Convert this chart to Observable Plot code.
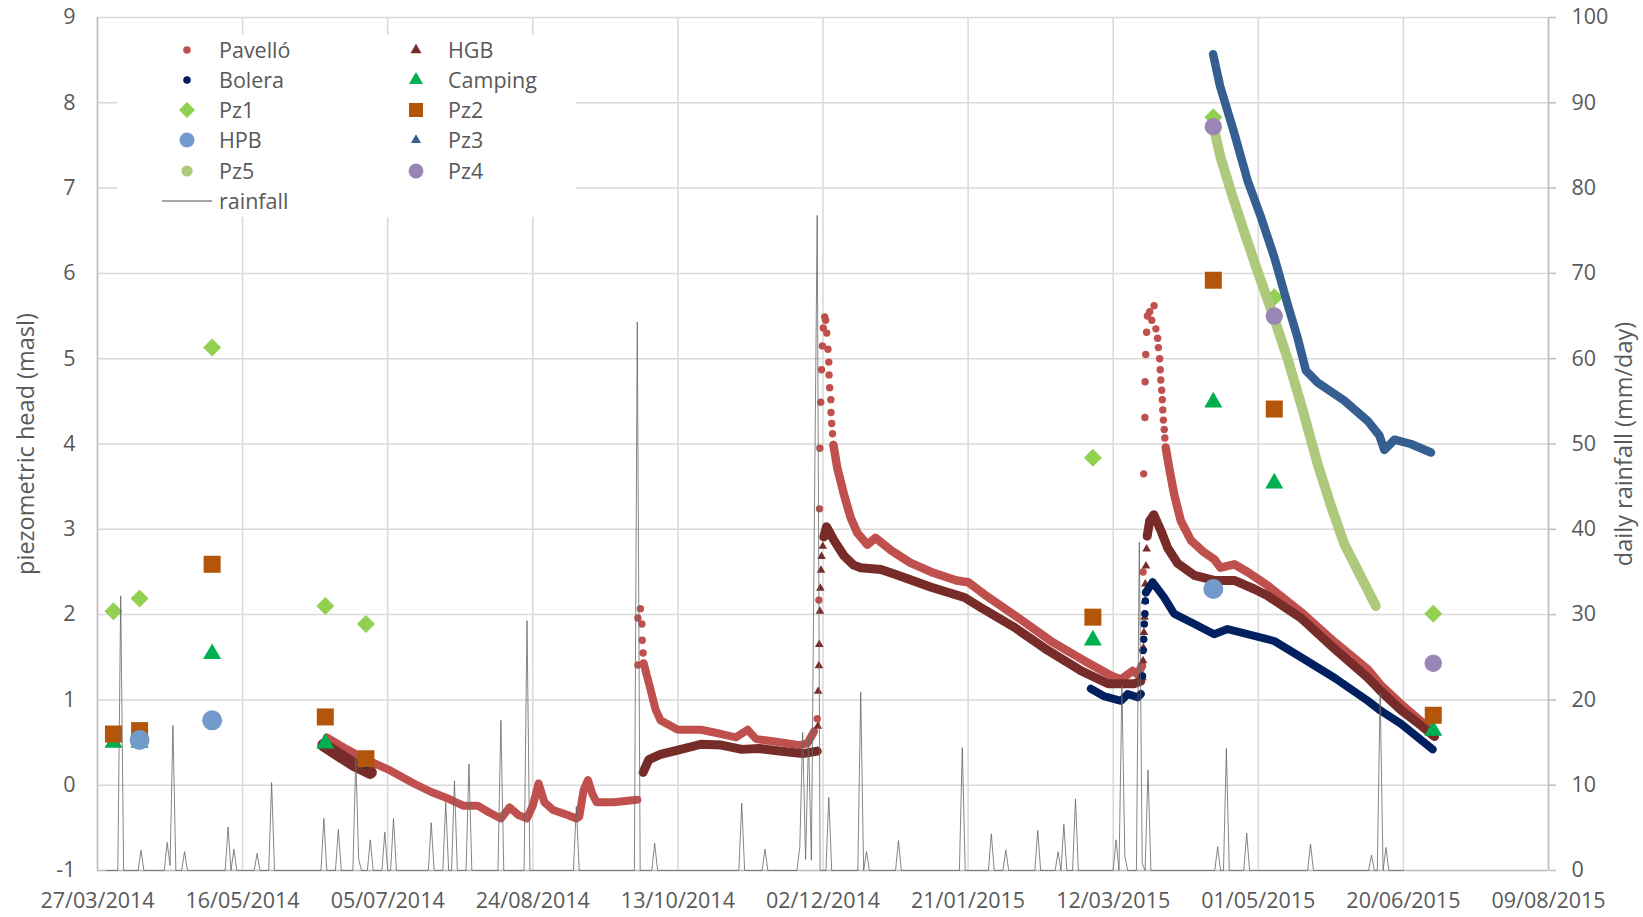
<!DOCTYPE html>
<html><head><meta charset="utf-8">
<script src="https://cdn.jsdelivr.net/npm/d3@7"></script>
<script src="https://cdn.jsdelivr.net/npm/@observablehq/plot@0.6"></script>
<style>html,body{margin:0;padding:0;background:#fff;}#chart{width:1643px;height:917px;}</style>
</head><body><div id="chart"></div>
<script>
// ---------- axis ticks ----------
const xTicks = ["2014-03-27","2014-05-16","2014-07-05","2014-08-24","2014-10-13","2014-12-02","2015-01-21","2015-03-12","2015-05-01","2015-06-20","2015-08-09"];
const headTicks = [-1,0,1,2,3,4,5,6,7,8,9];
const rainTicks = [0,10,20,30,40,50,60,70,80,90,100];

// ---------- Pavelló (masl) ----------
const pavelloSummer = [["2014-06-14",0.56],["2014-06-20",0.44],["2014-06-27",0.31],["2014-07-06",0.17],["2014-07-14",0.02],["2014-07-20",-0.08],["2014-07-26",-0.16],["2014-07-31",-0.24],["2014-08-05",-0.24],["2014-08-09",-0.32],["2014-08-13",-0.39],["2014-08-16",-0.26],["2014-08-19",-0.35],["2014-08-22",-0.39],["2014-08-24",-0.24],["2014-08-26",0.02],["2014-08-28",-0.20],["2014-08-31",-0.29],["2014-09-05",-0.35],["2014-09-08",-0.39],["2014-09-09",-0.37],["2014-09-10T12:00",-0.06],["2014-09-12",0.06],["2014-09-13T12:00",-0.10],["2014-09-15",-0.20],["2014-09-21",-0.20],["2014-09-29",-0.17]];
const pavelloOctJump = [["2014-09-29T05:00",1.96],["2014-09-30T02:00",2.07],["2014-09-30T14:00",1.89],["2014-09-30T17:00",1.70],["2014-10-01T00:00",1.55],["2014-09-29T05:00",1.41]];
const pavelloOctNov = [["2014-10-01T05:00",1.43],["2014-10-03T14:00",1.12],["2014-10-05T07:00",0.89],["2014-10-07",0.76],["2014-10-13",0.65],["2014-10-21",0.65],["2014-10-28",0.60],["2014-11-02",0.56],["2014-11-06",0.65],["2014-11-09",0.54],["2014-11-16",0.51],["2014-11-24",0.47],["2014-11-26T14:00",0.49],["2014-11-28T22:00",0.63]];
const pavelloDecPeak = [["2014-11-30T00:00",0.78],["2014-11-30T14:00",2.17],["2014-11-30T19:00",3.24],["2014-11-30T22:00",3.95],["2014-12-01T05:00",4.49],["2014-12-01T12:00",4.87],["2014-12-01T19:00",5.15],["2014-12-02T02:00",5.36],["2014-12-02T14:00",5.49],["2014-12-02T22:00",5.45],["2014-12-03T07:00",5.30],["2014-12-03T17:00",5.11],["2014-12-04T00:00",4.96],["2014-12-04T02:00",4.81],["2014-12-04T07:00",4.66],["2014-12-04T17:00",4.52],["2014-12-04T18:00",4.37],["2014-12-05T00:00",4.24],["2014-12-05T07:00",4.12],["2014-12-05T14:00",3.99]];
const pavelloDecMar = [["2014-12-05T14:00",3.99],["2014-12-06T22:00",3.72],["2014-12-09T05:00",3.41],["2014-12-11T12:00",3.14],["2014-12-13T19:00",2.96],["2014-12-17T07:00",2.82],["2014-12-20T02:00",2.90],["2014-12-25T14:00",2.75],["2015-01-01",2.61],["2015-01-09",2.49],["2015-01-17",2.40],["2015-01-21",2.38],["2015-01-26T12:00",2.24],["2015-02-07",1.97],["2015-02-18T12:00",1.69],["2015-03-02",1.46],["2015-03-11T12:00",1.28],["2015-03-14T17:00",1.24],["2015-03-18T17:00",1.34],["2015-03-20T10:00",1.30],["2015-03-21T22:00",1.40]];
const pavelloMarPeak = [["2015-03-21T22:00",1.40],["2015-03-22T07:00",2.50],["2015-03-22T12:00",3.65],["2015-03-22T22:00",4.31],["2015-03-23T00:00",4.73],["2015-03-23T05:00",5.05],["2015-03-23T12:00",5.31],["2015-03-23T19:00",5.50],["2015-03-24T14:00",5.55],["2015-03-25T07:00",5.45],["2015-03-26T02:00",5.62],["2015-03-26T17:00",5.35],["2015-03-27T07:00",5.24],["2015-03-27T14:00",5.13],["2015-03-28T00:00",5.00],["2015-03-28T05:00",4.87],["2015-03-28T10:00",4.75],["2015-03-28T17:00",4.63],["2015-03-28T22:00",4.52],["2015-03-29T02:00",4.40],["2015-03-29T07:00",4.28],["2015-03-29T14:00",4.17],["2015-03-29T19:00",4.07],["2015-03-30T02:00",3.96]];
const pavelloAprJun = [["2015-03-30T02:00",3.96],["2015-03-31T07:00",3.72],["2015-04-02",3.41],["2015-04-04T07:00",3.10],["2015-04-07T19:00",2.87],["2015-04-12T07:00",2.73],["2015-04-15T19:00",2.65],["2015-04-18",2.55],["2015-04-22T17:00",2.59],["2015-04-27T07:00",2.50],["2015-05-04T05:00",2.34],["2015-05-15T17:00",2.03],["2015-05-27T05:00",1.68],["2015-06-07T17:00",1.36],["2015-06-12T07:00",1.17],["2015-06-19T05:00",0.95],["2015-06-26T02:00",0.75],["2015-06-30T17:00",0.62]];

// ---------- HGB ----------
const hgbSummer = [["2014-06-13",0.47],["2014-06-18",0.36],["2014-06-23",0.25],["2014-06-29",0.15]];
const hgbOctNov = [["2014-10-01",0.15],["2014-10-03",0.30],["2014-10-07",0.36],["2014-10-13",0.41],["2014-10-21",0.48],["2014-10-28",0.47],["2014-11-04",0.42],["2014-11-10",0.43],["2014-11-17",0.40],["2014-11-25",0.37],["2014-11-30",0.40]];
const hgbDecRise = [["2014-11-30T05:00",0.69],["2014-11-30T08:00",1.10],["2014-11-30T14:00",1.40],["2014-11-30T17:00",1.65],["2014-11-30T22:00",2.04],["2014-12-01T02:00",2.31],["2014-12-01T07:00",2.52],["2014-12-01T12:00",2.68],["2014-12-01T22:00",2.80],["2014-12-02T07:00",2.91]];
const hgbDecMar = [["2014-12-02T07:00",2.91],["2014-12-03T05:00",3.03],["2014-12-05T19:00",2.87],["2014-12-09T05:00",2.69],["2014-12-12T14:00",2.58],["2014-12-15",2.55],["2014-12-22",2.53],["2014-12-27T19:00",2.46],["2015-01-08T07:00",2.32],["2015-01-19T19:00",2.20],["2015-01-25T12:00",2.08],["2015-02-06",1.85],["2015-02-17T12:00",1.58],["2015-03-01",1.34],["2015-03-10T07:00",1.19],["2015-03-14T17:00",1.19],["2015-03-19T07:00",1.19],["2015-03-21T12:00",1.22]];
const hgbMarRise = [["2015-03-22T02:00",1.26],["2015-03-22T07:00",1.46],["2015-03-22T10:00",1.61],["2015-03-22T14:00",1.79],["2015-03-22T19:00",1.97],["2015-03-22T22:00",2.16],["2015-03-23T02:00",2.36],["2015-03-23T07:00",2.57],["2015-03-23T12:00",2.77],["2015-03-23T17:00",2.92]];
const hgbAprJun = [["2015-03-23T17:00",2.92],["2015-03-24T14:00",3.10],["2015-03-26",3.17],["2015-03-28T12:00",2.98],["2015-03-30T19:00",2.78],["2015-04-03T05:00",2.60],["2015-04-09",2.46],["2015-04-15T19:00",2.40],["2015-04-22T17:00",2.40],["2015-04-29T14:00",2.30],["2015-05-04T05:00",2.22],["2015-05-15T17:00",1.96],["2015-05-27T05:00",1.60],["2015-06-07T17:00",1.26],["2015-06-12T07:00",1.10],["2015-06-19T05:00",0.88],["2015-06-26T02:00",0.70],["2015-06-30T17:00",0.57]];

// ---------- Bolera ----------
const boleraSingle = [["2014-06-27T12:00",0.24]];
const boleraMar = [["2015-03-04T07:00",1.13],["2015-03-09",1.04],["2015-03-14T17:00",0.99],["2015-03-17",1.07],["2015-03-20T10:00",1.03],["2015-03-21T12:00",1.07]];
const boleraRise = [["2015-03-22T02:00",1.28],["2015-03-22T07:00",1.58],["2015-03-22T12:00",1.71],["2015-03-22T17:00",1.89],["2015-03-22T22:00",2.01],["2015-03-23T02:00",2.16],["2015-03-23T07:00",2.26]];
const boleraAprJun = [["2015-03-23T07:00",2.26],["2015-03-25T14:00",2.38],["2015-03-29T14:00",2.20],["2015-04-02",2.01],["2015-04-09",1.89],["2015-04-15T19:00",1.77],["2015-04-20T10:00",1.83],["2015-04-27T07:00",1.77],["2015-05-06T12:00",1.69],["2015-05-15T17:00",1.50],["2015-05-27T05:00",1.26],["2015-06-07T17:00",0.99],["2015-06-12T07:00",0.87],["2015-06-19T05:00",0.72],["2015-06-30T02:00",0.42]];

// ---------- survey piezometers ----------
const camping = [["2014-04-01T12:00",0.50],["2014-04-10T12:00",0.50],["2014-05-05T12:00",1.54],["2014-06-13T12:00",0.49],["2015-03-05",1.70],["2015-04-15T12:00",4.49],["2015-05-06T12:00",3.54],["2015-06-30T07:00",0.64]];
const pz1 = [["2014-04-01T12:00",2.04],["2014-04-10T12:00",2.19],["2014-05-05T12:00",5.13],["2014-06-13T12:00",2.10],["2014-06-27T12:00",1.89],["2015-03-05",3.84],["2015-04-15T12:00",7.83],["2015-05-06T12:00",5.72],["2015-06-30T07:00",2.01]];
const pz2 = [["2014-04-01T12:00",0.60],["2014-04-10T12:00",0.64],["2014-05-05T12:00",2.59],["2014-06-13T12:00",0.80],["2014-06-27T12:00",0.31],["2015-03-05",1.97],["2015-04-15T12:00",5.92],["2015-05-06T12:00",4.41],["2015-06-30T07:00",0.82]];
const hpb = [["2014-04-10T12:00",0.53],["2014-05-05T12:00",0.76],["2015-04-15T12:00",2.30]];
const pz4 = [["2015-04-15T12:00",7.72],["2015-05-06T12:00",5.50],["2015-06-30T07:00",1.43]];
const pz3 = [["2015-04-15T10:00",8.57],["2015-04-17T19:00",8.20],["2015-04-22T12:00",7.67],["2015-04-27T07:00",7.09],["2015-05-01T22:00",6.66],["2015-05-06T12:00",6.19],["2015-05-11T02:00",5.64],["2015-05-14T12:00",5.25],["2015-05-17T10:00",4.86],["2015-05-21T10:00",4.72],["2015-05-30T14:00",4.51],["2015-06-07T17:00",4.27],["2015-06-11T17:00",4.10],["2015-06-13T10:00",3.93],["2015-06-16T22:00",4.05],["2015-06-22T14:00",4.00],["2015-06-29T12:00",3.90]];
const pz5 = [["2015-04-15T10:00",7.74],["2015-04-18",7.36],["2015-04-21T12:00",6.97],["2015-04-26",6.50],["2015-04-30T17:00",6.03],["2015-05-06T10:00",5.48],["2015-05-11",5.01],["2015-05-15T17:00",4.47],["2015-05-18",4.19],["2015-05-21T12:00",3.76],["2015-05-26",3.28],["2015-05-30T14:00",2.83],["2015-06-05T10:00",2.44],["2015-06-10T12:00",2.10]];

// ---------- daily rainfall (mm/day); days not listed had no rain ----------
const rainStart = "2014-03-30", rainEnd = "2015-06-20";
const rainfall = [["2014-04-04",32.2],["2014-04-11",2.4],["2014-04-20",3.3],["2014-04-21",0.6],["2014-04-22",17.0],["2014-04-26",2.2],["2014-05-11",5.1],["2014-05-13",2.5],["2014-05-21",2.0],["2014-05-26",10.3],["2014-06-13",6.1],["2014-06-18",4.8],["2014-06-24",13.2],["2014-06-25",1.3],["2014-06-29",3.6],["2014-07-04",4.5],["2014-07-07",6.1],["2014-07-20",5.6],["2014-07-25",8.0],["2014-07-28",10.5],["2014-08-02",12.5],["2014-08-13",17.6],["2014-08-22",29.3],["2014-09-08",7.5],["2014-09-29",64.3],["2014-10-05",3.2],["2014-11-04",7.9],["2014-11-12",2.5],["2014-11-24",2.7],["2014-11-25",16.2],["2014-11-26",1.3],["2014-11-27",15.5],["2014-11-28",1.2],["2014-11-29",40.0],["2014-11-30",76.8],["2014-12-04",8.6],["2014-12-15",20.9],["2014-12-17",2.2],["2014-12-28",3.5],["2015-01-19",14.4],["2015-01-29",4.3],["2015-02-03",2.4],["2015-02-14",4.7],["2015-02-21",2.2],["2015-02-23",5.4],["2015-02-27",8.4],["2015-03-13",3.6],["2015-03-15",21.7],["2015-03-16",1.7],["2015-03-21",38.5],["2015-03-22",0.8],["2015-03-24",11.8],["2015-04-17",2.8],["2015-04-20",14.3],["2015-04-27",4.4],["2015-05-19",3.1],["2015-06-09",1.8],["2015-06-12",20.8],["2015-06-14",2.7]];

// ---------- styling ----------
const colors = {"Pavelló":"#C0504D","HGB":"#772C2A","Bolera":"#002060","Camping":"#00B050","Pz1":"#92D050","Pz2":"#B3560A","HPB":"#729BCB","Pz3":"#365F91","Pz5":"#AEC97C","Pz4":"#9B85B6","rainfall":"#666666"};
const FONT = "'Open Sans', sans-serif";
const TXT = "#595959", GRID = "#d9d9d9", AXIS = "#bfbfbf";

const P = s => new Date(s.length > 10 ? s + "Z" : s + "T00:00Z");
const rows = a => a.map(([d, v]) => ({date: P(d), value: v}));
const lineOf = (a, c, w) => Plot.line(rows(a), {x: "date", y: "value", stroke: c, strokeWidth: w, strokeLinecap: "round", strokeLinejoin: "round"});
const dotsOf = (a, c, r, symbol = "circle") => Plot.dot(rows(a), {x: "date", y: "value", fill: c, r, symbol});

const rainMap = new Map(rainfall);
const fmtDay = d3.utcFormat("%Y-%m-%d");
const rainDaily = d3.utcDays(P(rainStart), d3.utcDay.offset(P(rainEnd), 1)).map(d => ({date: d, mm: rainMap.get(fmtDay(d)) || 0}));
const rainToHead = mm => -1 + mm / 10;   // secondary axis 0..100 mm ↔ -1..9 masl

const chart = Plot.plot({
  width: 1643, height: 917,
  marginLeft: 97, marginRight: 95, marginTop: 17, marginBottom: 47,
  style: {fontFamily: FONT, fontSize: "21px", background: "white", overflow: "visible"},
  x: {type: "utc", domain: [P(xTicks[0]), P(xTicks[xTicks.length - 1])], label: null},
  y: {domain: [-1, 9], label: null},
  marks: [
    Plot.gridX(xTicks.map(P), {stroke: GRID, strokeOpacity: 1, strokeWidth: 1.5}),
    Plot.gridY(headTicks, {stroke: GRID, strokeOpacity: 1, strokeWidth: 1.5}),
    Plot.ruleY([-1], {stroke: AXIS, strokeWidth: 1.5}),
    Plot.ruleX([P(xTicks[0]), P(xTicks[xTicks.length - 1])], {stroke: AXIS, strokeWidth: 1.5}),
    Plot.axisX(xTicks.map(P), {tickSize: 0, tickPadding: 22, tickFormat: d3.utcFormat("%d/%m/%Y"), fill: TXT, fontSize: 21.5}),
    Plot.axisY(headTicks, {anchor: "left", tickSize: 0, tickPadding: 22, tickFormat: d => String(d), fill: TXT, fontSize: 21.5}),
    Plot.axisY(rainTicks.map(rainToHead), {anchor: "right", tickSize: 7, tickPadding: 16, stroke: AXIS, strokeWidth: 1.5, tickFormat: d => String(Math.round((d + 1) * 10)), fill: TXT, fontSize: 21.5}),

    // Pavelló
    lineOf(pavelloSummer, colors["Pavelló"], 8),
    dotsOf(pavelloOctJump, colors["Pavelló"], 3.7),
    lineOf(pavelloOctNov, colors["Pavelló"], 8),
    dotsOf(pavelloDecPeak, colors["Pavelló"], 3.7),
    lineOf(pavelloDecMar, colors["Pavelló"], 8.5),
    dotsOf(pavelloMarPeak, colors["Pavelló"], 3.7),
    lineOf(pavelloAprJun, colors["Pavelló"], 8.5),
    // HGB
    lineOf(hgbSummer, colors.HGB, 13),
    lineOf(hgbOctNov, colors.HGB, 9),
    dotsOf(hgbDecRise, colors.HGB, 3.2, "triangle"),
    lineOf(hgbDecMar, colors.HGB, 9),
    dotsOf(hgbMarRise, colors.HGB, 3.2, "triangle"),
    lineOf(hgbAprJun, colors.HGB, 9),
    // Bolera
    dotsOf(boleraSingle, colors.Bolera, 3.8),
    lineOf(boleraMar, colors.Bolera, 8),
    dotsOf(boleraRise, colors.Bolera, 3.8),
    lineOf(boleraAprJun, colors.Bolera, 8),
    // survey points
    dotsOf(camping, colors.Camping, 6.7, "triangle"),
    dotsOf(pz1, colors.Pz1, 8.1, "diamond2"),
    dotsOf(pz2, colors.Pz2, 9.6, "square"),
    dotsOf(hpb, colors.HPB, 10),
    lineOf(pz3, colors.Pz3, 8.5),
    lineOf(pz5, colors.Pz5, 10),
    dotsOf(pz4, colors.Pz4, 8.7),
    // rainfall (secondary axis)
    Plot.line(rainDaily, {x: "date", y: d => rainToHead(d.mm), stroke: colors.rainfall, strokeWidth: 0.8}),
    // axis titles
    Plot.text(["piezometric head (masl)"], {text: d => d, frameAnchor: "left", textAnchor: "middle", dx: -71, rotate: -90, fontSize: 23.5, fill: TXT}),
    Plot.text(["daily rainfall (mm/day)"], {text: d => d, frameAnchor: "right", textAnchor: "middle", dx: 76, rotate: -90, fontSize: 23.5, fill: TXT})
  ]
});
document.getElementById("chart").append(chart);

// ---------- legend (inside plot, upper left) ----------
const legendItems = [
  {name: "Pavelló", shape: "circle", size: 3.8}, {name: "HGB", shape: "triangle", size: 11},
  {name: "Bolera", shape: "circle", size: 3.8}, {name: "Camping", shape: "triangle", size: 14},
  {name: "Pz1", shape: "diamond", size: 8}, {name: "Pz2", shape: "square", size: 14},
  {name: "HPB", shape: "circle", size: 7.6}, {name: "Pz3", shape: "triangle", size: 10},
  {name: "Pz5", shape: "circle", size: 5.6}, {name: "Pz4", shape: "circle", size: 7.4},
  {name: "rainfall", shape: "line", size: 0}
];
const svg = d3.select(chart);
const lg = svg.append("g").attr("font-family", FONT).attr("font-size", 21.5).attr("fill", TXT).attr("text-anchor", "start");
lg.append("rect").attr("x", 117).attr("y", 35).attr("width", 459).attr("height", 182).attr("fill", "white");
const colX = [187, 416], textX = [219, 448], rowY = [50, 80, 110, 140, 171, 201];
legendItems.forEach((it, i) => {
  const col = i % 2, row = Math.floor(i / 2);
  const cx = colX[col], cy = rowY[row], c = colors[it.name];
  if (it.shape === "line") {
    lg.append("line").attr("x1", 162).attr("x2", 212).attr("y1", cy).attr("y2", cy).attr("stroke", "#888").attr("stroke-width", 1.3);
  } else if (it.shape === "circle") {
    lg.append("circle").attr("cx", cx).attr("cy", cy).attr("r", it.size).attr("fill", c);
  } else {
    let type, size;
    if (it.shape === "triangle") { type = d3.symbolTriangle; size = Math.sqrt(3) * it.size * it.size / 4; }
    else if (it.shape === "square") { type = d3.symbolSquare; size = it.size * it.size; }
    else { type = d3.symbolDiamond2; size = Math.pow(it.size / 0.62625, 2); }
    lg.append("path").attr("transform", `translate(${cx},${cy})`).attr("d", d3.symbol(type, size)()).attr("fill", c);
  }
  lg.append("text").attr("x", textX[col]).attr("y", cy).attr("dy", "0.35em").text(it.name);
});
</script></body></html>
